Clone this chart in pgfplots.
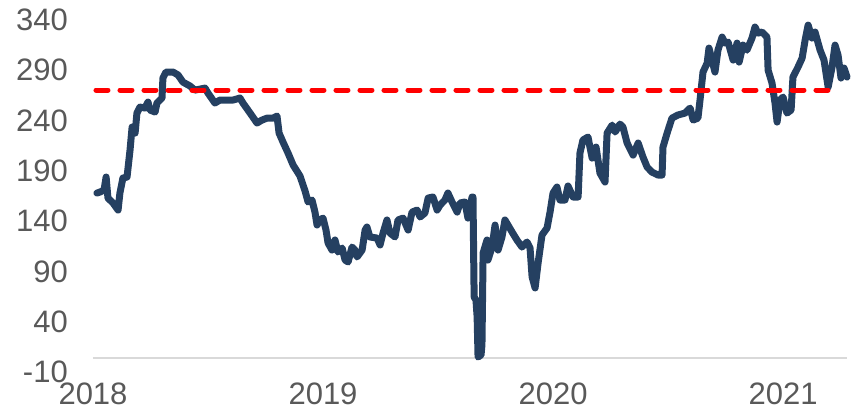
\documentclass[border=0pt]{standalone}
\usepackage{fontspec}
\setmainfont{Liberation Sans}
\usepackage{pgfplots}
\pgfplotsset{compat=1.18}
\definecolor{navy}{RGB}{37,64,97}
\definecolor{ticktext}{RGB}{89,89,89}
\definecolor{axisgray}{RGB}{217,217,217}

\pgfplotstableread{
t v
2018.017 160.8
2018.030 161.8
2018.048 163.9
2018.057 177.4
2018.065 155.6
2018.087 150.5
2018.109 143.2
2018.117 160.8
2018.130 176.3
2018.148 177.4
2018.161 205.3
2018.170 229.1
2018.183 222.9
2018.191 243.6
2018.204 249.8
2018.226 248.8
2018.239 255.0
2018.248 246.7
2018.270 244.7
2018.278 254.0
2018.300 259.2
2018.304 279.9
2018.317 286.1
2018.348 286.1
2018.370 283.0
2018.391 275.7
2018.422 271.6
2018.443 267.4
2018.487 269.5
2018.500 264.3
2018.530 254.0
2018.552 257.1
2018.583 257.1
2018.609 257.1
2018.639 259.2
2018.652 254.0
2018.683 243.6
2018.713 233.3
2018.735 236.4
2018.757 238.4
2018.783 238.4
2018.800 240.5
2018.809 222.9
2018.826 213.6
2018.848 202.2
2018.870 189.8
2018.900 178.4
2018.922 162.9
2018.935 151.5
2018.952 153.6
2018.965 141.1
2018.974 127.7
2018.987 132.9
2019.000 134.9
2019.013 122.5
2019.022 109.0
2019.039 101.8
2019.052 112.2
2019.065 99.7
2019.083 103.9
2019.096 91.4
2019.109 89.4
2019.126 104.9
2019.139 101.8
2019.148 94.6
2019.170 101.8
2019.183 122.5
2019.191 125.6
2019.204 115.3
2019.235 114.2
2019.248 107.0
2019.261 119.4
2019.278 132.9
2019.291 119.4
2019.313 115.3
2019.326 132.9
2019.348 134.9
2019.370 122.5
2019.387 141.1
2019.409 143.2
2019.422 136.0
2019.443 140.1
2019.457 155.6
2019.478 156.7
2019.496 143.2
2019.509 148.4
2019.530 153.6
2019.543 160.8
2019.561 151.5
2019.583 141.1
2019.596 150.5
2019.617 151.5
2019.630 134.9
2019.648 156.7
2019.652 156.7
2019.657 53.1
2019.665 50.0
2019.670 32.4
2019.674 -9.0
2019.687 -6.9
2019.691 3.5
2019.696 98.7
2019.713 112.2
2019.717 91.4
2019.735 104.9
2019.748 127.7
2019.761 101.8
2019.778 115.3
2019.791 132.9
2019.804 127.7
2019.822 120.4
2019.843 112.2
2019.865 104.9
2019.887 110.1
2019.900 103.9
2019.909 73.9
2019.922 62.5
2019.935 88.3
2019.952 117.3
2019.974 124.6
2019.987 141.1
2020.000 160.8
2020.017 167.0
2020.030 153.6
2020.052 153.6
2020.065 168.1
2020.087 156.7
2020.109 156.7
2020.117 202.2
2020.130 215.7
2020.152 218.8
2020.170 197.0
2020.187 208.4
2020.204 181.5
2020.226 172.2
2020.235 222.9
2020.257 231.2
2020.270 224.0
2020.291 232.2
2020.304 229.1
2020.322 212.6
2020.348 200.1
2020.370 212.6
2020.391 198.1
2020.409 187.7
2020.430 182.5
2020.457 179.4
2020.474 179.4
2020.478 208.4
2020.496 222.9
2020.517 238.4
2020.543 241.6
2020.574 243.6
2020.596 248.8
2020.609 236.4
2020.630 238.4
2020.639 257.1
2020.652 286.1
2020.670 295.4
2020.678 310.9
2020.691 298.5
2020.704 286.1
2020.717 308.8
2020.735 322.3
2020.748 316.1
2020.761 317.1
2020.783 298.5
2020.800 316.1
2020.809 296.4
2020.826 314.0
2020.843 308.8
2020.865 321.3
2020.878 332.7
2020.891 326.4
2020.909 327.5
2020.930 322.3
2020.935 288.1
2020.952 274.7
2020.965 254.0
2020.974 234.3
2020.987 257.1
2021.000 260.2
2021.017 243.6
2021.035 246.7
2021.043 280.9
2021.065 291.2
2021.083 300.6
2021.096 319.2
2021.109 334.7
2021.126 321.3
2021.139 327.5
2021.161 308.8
2021.178 298.5
2021.196 270.5
2021.213 291.2
2021.226 314.0
2021.239 303.7
2021.252 279.9
2021.265 290.2
2021.278 280.9
}\spread

\pgfplotstableread{
t v
2018.013 267.4
2021.196 267.4
}\target

\begin{document}
\begin{tikzpicture}
\path[use as bounding box] (-93pt,-53pt) rectangle (762pt,358pt);
\begin{axis}[
    scale only axis,
    width=754pt, height=338pt,
    xmin=2018, xmax=2021.278,
    ymin=-10, ymax=340,
    axis x line*=bottom,
    axis y line*=left,
    x axis line style={draw=axisgray, line width=2pt},
    y axis line style={draw=none},
    tick style={draw=none},
    xtick={2018,2019,2020,2021},
    xticklabels={2018,2019,2020,2021},
    ytick={-10,40,90,140,190,240,290,340},
    yticklabels={-10,40,90,140,190,240,290,340},
    ticklabel style={font=\fontsize{31}{37}\selectfont, text=ticktext, inner sep=0pt},
    yticklabel style={anchor=east, xshift=-25pt, yshift=2pt*\ticknum-14pt},
    xticklabel style={anchor=north, yshift=-25pt},
    clip=false,
]
\addplot[navy, line width=7pt, line join=round, line cap=round] table[x=t, y=v] {\spread};
\addplot[red, line width=5pt, line cap=round, dash pattern=on 12pt off 12pt] table[x=t, y=v] {\target};
\end{axis}
\end{tikzpicture}
\end{document}
